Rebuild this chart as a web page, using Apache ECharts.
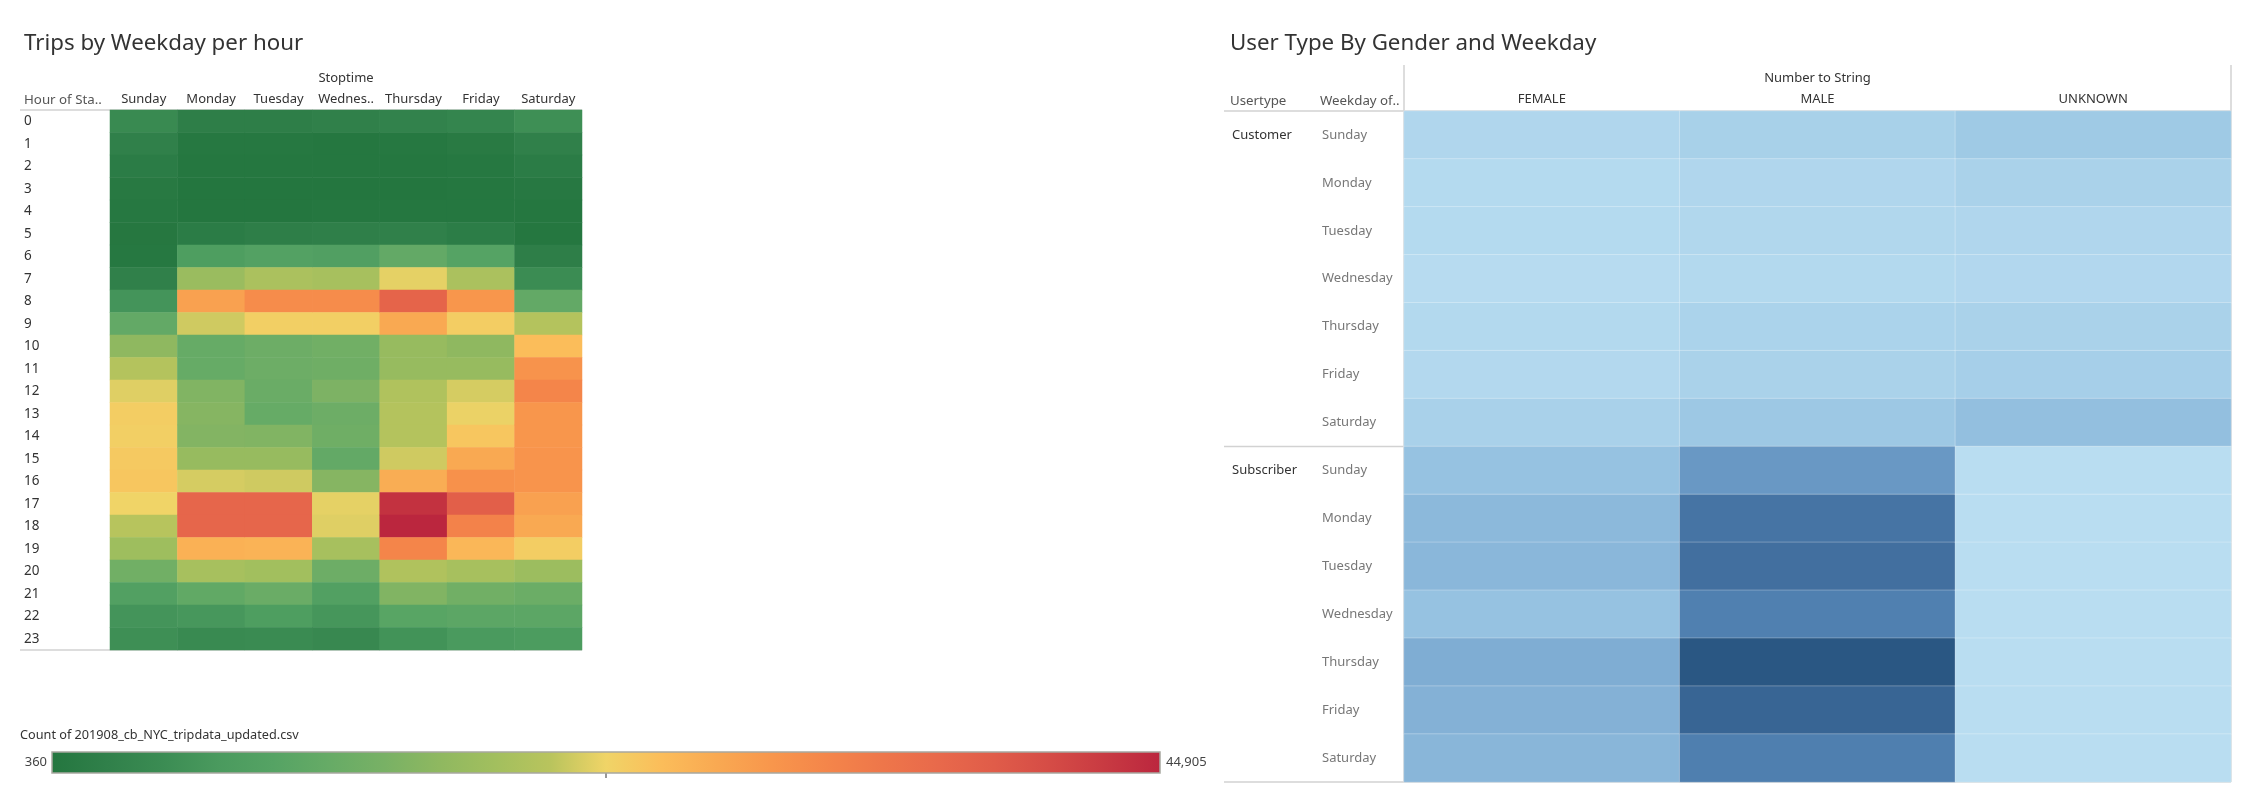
<!DOCTYPE html>
<html><head><meta charset="utf-8">
<script src="https://cdn.jsdelivr.net/npm/echarts@6/dist/echarts.min.js"></script>
<style>html,body{margin:0;padding:0;background:#fff}#c{width:2255px;height:806px}</style>
</head><body><div id="c"></div><script>
// ---------- data: Trips by Weekday per hour ----------
const hours = ['0','1','2','3','4','5','6','7','8','9','10','11','12','13','14','15','16','17','18','19','20','21','22','23'];
const weekdayLabels = ['Sunday','Monday','Tuesday','Wednes..','Thursday','Friday','Saturday'];
const tripsSunday    = [4369,2587,1696,1028,700,650,716,2587,6151,11051,15951,19960,21964,23301,23078,23746,23969,22633,20183,17733,12833,8601,6151,5260];
const tripsMonday    = [2142,805,583,450,450,1696,7933,17287,27978,21296,11496,11496,14614,15060,14837,16842,21519,36441,36441,26196,18623,10828,6596,4369];
const tripsTuesday   = [2142,805,538,405,450,2142,8824,19069,30651,23078,12387,12387,11942,11496,14614,16842,21296,36441,36441,25973,18178,11942,7933,4592];
const tripsWednesday = [2587,583,494,360,494,2365,8378,18623,30651,23078,12833,12610,14169,12387,12610,11051,15060,22187,21964,18623,12387,8601,6374,4146];
const tripsThursday  = [3033,805,583,450,538,2587,11051,22187,36887,27087,16842,16842,19514,19960,19960,21296,26642,43569,44905,31542,19514,14614,9714,5928];
const tripsFriday    = [3478,1251,805,538,583,1919,9269,19069,29314,23301,15951,16842,21519,22410,23969,27087,29982,37778,31987,25528,18623,12833,10160,7042];
const tripsSaturday  = [5260,2587,1696,895,627,494,2142,4815,11051,19960,24860,29760,31542,29314,29314,29537,29537,27978,27087,23301,17510,12164,10160,7487];

// ---------- data: User Type By Gender and Weekday ----------
const genders = ['FEMALE','MALE','UNKNOWN'];
const userTypes = ['Customer','Subscriber'];
const weekdays = ['Sunday','Monday','Tuesday','Wednesday','Thursday','Friday','Saturday'];
const customerFemale   = [14800,8000,8000,4400,9300,10700,24500];
const customerMale     = [25800,14800,13500,9300,21700,23100,42300];
const customerUnknown  = [39600,23100,14800,12100,23100,28600,58800];
const subscriberFemale = [53300,69800,72600,53300,91800,83600,75300];
const subscriberMale   = [130300,207300,218300,182500,276000,243000,185300];
const subscriberUnknown= [1300,1200,1200,1250,1150,1100,1200];

// ---------- build ----------
const tripCols = [tripsSunday,tripsMonday,tripsTuesday,tripsWednesday,tripsThursday,tripsFriday,tripsSaturday];
const heatData = [];
tripCols.forEach((col, ci) => col.forEach((v, hi) => heatData.push([ci, hi, v])));
const allTrips = tripCols.flat();
const tripMin = Math.min(...allTrips), tripMax = Math.max(...allTrips);
const fmt = n => n.toLocaleString('en-US');

const rowKeys = [];
userTypes.forEach(u => weekdays.forEach(d => rowKeys.push(u + '|' + d)));
const userBlocks = [[customerFemale,customerMale,customerUnknown],[subscriberFemale,subscriberMale,subscriberUnknown]];
const userData = [];
userBlocks.forEach((block, ui) => block.forEach((arr, gi) => arr.forEach((v, di) => userData.push([gi, ui*7 + di, v]))));
const allUser = userData.map(d => d[2]);

// ---------- layout ----------
const FONT = 'Noto Sans';
const L = {left:110, top:110, width:472, height:540};
const R = {left:1404, top:111, width:827, height:671};
const ruleColor = '#d2d2d2';
const rowH = R.height / rowKeys.length;

const greenGoldRed = ['#24763f','#30804a','#3b8c53','#4a9a5e','#55a364','#66ab66','#78b165','#8fb860','#a2bf5e','#b9c45d',
  '#f0d467','#fbbd5a','#f9a952','#f8964c','#f4854a','#ee764a','#e8694b','#e05c49','#d54c46','#c83a42','#bb263e'];
const blues = ['#b9ddf1','#9ac6e3','#7eacd3','#6494c1','#4f7faf','#3d6a9a','#2a5783'];

const LEG = {left:52, top:752, len:1108, thick:21};
const legendStops = greenGoldRed.map((c, i) => ({offset: i/(greenGoldRed.length-1), color: c}));

const chart = echarts.init(document.getElementById('c'), null, {renderer:'canvas'});
const line = (x1,y1,x2,y2,c,w) => ({type:'line', shape:{x1,y1,x2,y2}, style:{stroke:c||ruleColor, lineWidth:w||1.5}, silent:true});
const hdr = (text, left, top, size, color) => ({text, left, top, padding:0,
  textStyle:{fontFamily:FONT, fontSize:size, fontWeight:'normal', color}});

chart.setOption({
  animation:false,
  textStyle:{fontFamily:FONT},
  title:[
    hdr('Trips by Weekday per hour', 24, 33, 22.3, '#333'),
    hdr('User Type By Gender and Weekday', 1230, 33, 22.3, '#333'),
    hdr('Hour of Sta..', 24, 94, 13.3, '#555'),
    hdr('Usertype', 1230, 95, 13.3, '#555'),
    hdr('Weekday of..', 1320, 95, 13.3, '#555'),
    hdr('Count of 201908_cb_NYC_tripdata_updated.csv', 20, 729, 12.7, '#333')
  ],
  grid:[
    {left:L.left, top:L.top, width:L.width, height:L.height},
    {left:R.left, top:R.top, width:R.width, height:R.height}
  ],
  xAxis:[
    {type:'category', gridIndex:0, position:'top', data:weekdayLabels,
     axisLine:{show:false}, axisTick:{show:false}, splitLine:{show:false},
     axisLabel:{fontSize:13, color:'#333', margin:11, verticalAlign:'middle', interval:0},
     name:'Stoptime', nameLocation:'middle', nameGap:32, nameTextStyle:{fontSize:13, color:'#333', verticalAlign:'middle'}},
    {type:'category', gridIndex:1, position:'top', data:genders,
     axisLine:{show:false}, axisTick:{show:false}, splitLine:{show:false},
     axisLabel:{fontSize:13, color:'#333', margin:12, verticalAlign:'middle', interval:0},
     name:'Number to String', nameLocation:'middle', nameGap:33, nameTextStyle:{fontSize:13, color:'#333', verticalAlign:'middle'}}
  ],
  yAxis:[
    {type:'category', gridIndex:0, data:hours, inverse:true,
     axisLine:{show:false}, axisTick:{show:false}, splitLine:{show:false},
     axisLabel:{fontSize:13.5, color:'#333', align:'left', margin:L.left-24, interval:0}},
    {type:'category', gridIndex:1, data:rowKeys, inverse:true,
     axisLine:{show:false}, axisTick:{show:false}, splitLine:{show:false},
     axisLabel:{fontSize:13, color:'#777', align:'left', margin:R.left-1322, interval:0, formatter:v => v.split('|')[1]}},
    {type:'category', gridIndex:1, data:rowKeys, inverse:true, position:'left',
     axisLine:{show:false}, axisTick:{show:false}, splitLine:{show:false},
     axisLabel:{fontSize:13, color:'#333', align:'left', margin:R.left-1232, interval:0,
       formatter:(v, i) => (i % 7 === 0 ? v.split('|')[0] : '')}}
  ],
  visualMap:[
    {type:'continuous', seriesIndex:0, show:false, min:tripMin, max:tripMax, inRange:{color:greenGoldRed}},
    {type:'continuous', seriesIndex:1, show:false, min:Math.min(...allUser), max:Math.max(...allUser), inRange:{color:blues}}
  ],
  series:[
    {type:'heatmap', xAxisIndex:0, yAxisIndex:0, data:heatData, itemStyle:{borderWidth:0}, emphasis:{disabled:true}},
    {type:'heatmap', xAxisIndex:1, yAxisIndex:1, data:userData,
     itemStyle:{borderColor:'rgba(255,255,255,0.28)', borderWidth:1}, emphasis:{disabled:true}}
  ],
  graphic:[
    line(20, L.top, L.left + L.width, L.top),
    line(20, L.top + L.height, L.left + L.width, L.top + L.height),
    line(1224, R.top, R.left + R.width, R.top),
    line(1224, R.top + 7*rowH, R.left + R.width, R.top + 7*rowH),
    line(1224, R.top + R.height, R.left + R.width, R.top + R.height),
    line(R.left, 65, R.left, R.top + R.height),
    line(R.left + R.width, 65, R.left + R.width, R.top + R.height),
    // colour legend (gradient bar, derived from the same colour stops as the visualMap)
    {type:'rect', shape:{x:LEG.left, y:LEG.top, width:LEG.len, height:LEG.thick}, silent:true, z:9,
     style:{fill:new echarts.graphic.LinearGradient(0,0,1,0,legendStops), stroke:'#a8a8a0', lineWidth:1.5}},
    line(LEG.left + LEG.len/2, LEG.top + LEG.thick - 3, LEG.left + LEG.len/2, LEG.top + LEG.thick + 5, '#333', 1),
    {type:'text', x:LEG.left - 5, y:LEG.top + LEG.thick/2, silent:true,
     style:{text:fmt(tripMin), fontFamily:FONT, fontSize:13, fill:'#444', align:'right', verticalAlign:'middle'}},
    {type:'text', x:LEG.left + LEG.len + 6, y:LEG.top + LEG.thick/2, silent:true,
     style:{text:fmt(tripMax), fontFamily:FONT, fontSize:13, fill:'#444', align:'left', verticalAlign:'middle'}}
  ]
});
</script></body></html>
